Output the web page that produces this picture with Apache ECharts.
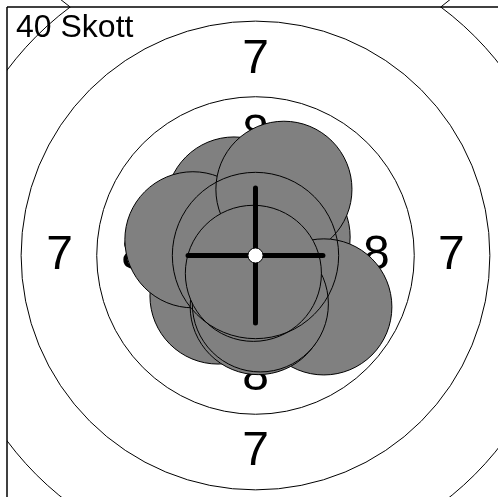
<!DOCTYPE html>
<html>
<head>
<meta charset="utf-8">
<script src="https://cdn.jsdelivr.net/npm/echarts@6/dist/echarts.min.js"></script>
<style>
  html, body { margin: 0; padding: 0; background: #fff; }
  #target { width: 498px; height: 497px; }
</style>
</head>
<body>
<div id="target"></div>
<script>
// target in mm, centre of the target at 0,0
const ringRadii = [102.5, 77.5, 52.5, 27.5];
const centreRadius = 2.5;
const ringLabels = ['7', '7', '7', '7', '8', '8', '8', '8'];
const labelX = [0, -64.8, 64.8, 0, 0, -40, 40, 0];
const labelY = [64.8, 0, 0, -64.8, 40, 0, 0, -40];
const shotCount = 40;
const shotRadius = 22.5;
// hits, drawn in this order (later ones on top)
const shotX = [-12.4, -7.1, 8.8, -20.7, 9.4, 22.6, 0.9, 1.6, -0.7];
const shotY = [-13.4, 16.7, 6.1, 5.2, 21.9, -17.0, -16.9, -16.0, -5.9];
const crossHalf = 22.3;

const font = '"Liberation Sans", Arial, sans-serif';

let myChart = echarts.init(document.getElementById('target'));

const labelData = ringLabels.map((t, i) => [labelX[i], labelY[i], t]);
const shotData = shotX.map((x, i) => [x, shotY[i]]);

myChart.setOption({
  animation: false,
  grid: { left: 7, top: 7, right: 0, bottom: 0 },
  xAxis: { type: 'value', min: -82.17, max: 80.19, show: false },
  yAxis: { type: 'value', min: -79.86, max: 82.17, show: false },
  graphic: [
    // frame
    { type: 'line', shape: { x1: 7, y1: 7, x2: 498, y2: 7 }, style: { stroke: '#000', lineWidth: 1.5 }, z: 10 },
    { type: 'line', shape: { x1: 7, y1: 7, x2: 7, y2: 497 }, style: { stroke: '#000', lineWidth: 1.5 }, z: 10 },
    {
      type: 'text', left: 16, top: 12,
      style: { text: shotCount + ' Skott', font: '32px ' + font, fill: '#000' },
      z: 10
    }
  ],
  series: [
    {
      // outer ring mirrored above the frame line
      type: 'custom', coordinateSystem: 'cartesian2d', clip: false, z: 1,
      data: [[0, 0]],
      renderItem: function (params, api) {
        const c = api.coord([0, 0]);
        const r = api.size([ringRadii[0], 0])[0];
        const topY = params.coordSys.y;
        const my = 2 * topY - c[1];
        const t0 = Math.asin((c[1] - topY) / r);
        return {
          type: 'arc',
          shape: { cx: c[0], cy: my, r: r, startAngle: Math.PI - t0, endAngle: 2 * Math.PI + t0, clockwise: true },
          style: { stroke: '#000', lineWidth: 1, fill: null }
        };
      }
    },
    {
      // ring numbers
      type: 'custom', coordinateSystem: 'cartesian2d', clip: true, z: 2,
      data: labelData,
      renderItem: function (params, api) {
        const p = api.coord([api.value(0), api.value(1)]);
        return {
          type: 'text',
          style: {
            text: String(labelData[params.dataIndex][2]),
            x: p[0], y: p[1], align: 'center', verticalAlign: 'middle',
            font: '48px ' + font, fill: '#000'
          }
        };
      }
    },
    {
      // hits
      type: 'custom', coordinateSystem: 'cartesian2d', clip: true, z: 3,
      data: shotData,
      renderItem: function (params, api) {
        const p = api.coord([api.value(0), api.value(1)]);
        const r = api.size([shotRadius, 0])[0];
        return {
          type: 'circle',
          shape: { cx: p[0], cy: p[1], r: r },
          style: { fill: '#808080', stroke: '#000', lineWidth: 1 }
        };
      }
    },
    {
      // rings
      type: 'custom', coordinateSystem: 'cartesian2d', clip: true, z: 4,
      data: ringRadii.map(r => [0, 0, r]),
      renderItem: function (params, api) {
        const c = api.coord([0, 0]);
        const r = api.size([api.value(2), 0])[0];
        return {
          type: 'circle',
          shape: { cx: c[0], cy: c[1], r: r },
          style: { fill: null, stroke: '#000', lineWidth: 1 }
        };
      }
    },
    {
      // aiming cross + centre
      type: 'custom', coordinateSystem: 'cartesian2d', clip: true, z: 5,
      data: [[0, 0]],
      renderItem: function (params, api) {
        const c = api.coord([0, 0]);
        const h = api.size([crossHalf, 0])[0];
        const r = api.size([centreRadius, 0])[0];
        const lineStyle = { stroke: '#000', lineWidth: 5, lineCap: 'round' };
        return {
          type: 'group',
          children: [
            { type: 'line', shape: { x1: c[0] - h, y1: c[1], x2: c[0] + h, y2: c[1] }, style: lineStyle },
            { type: 'line', shape: { x1: c[0], y1: c[1] - h, x2: c[0], y2: c[1] + h }, style: lineStyle },
            { type: 'circle', shape: { cx: c[0], cy: c[1], r: r }, style: { fill: '#fff', stroke: '#000', lineWidth: 1 } }
          ]
        };
      }
    }
  ]
});

window.onresize = function () {
  myChart.resize();
};
</script>
</body>
</html>
